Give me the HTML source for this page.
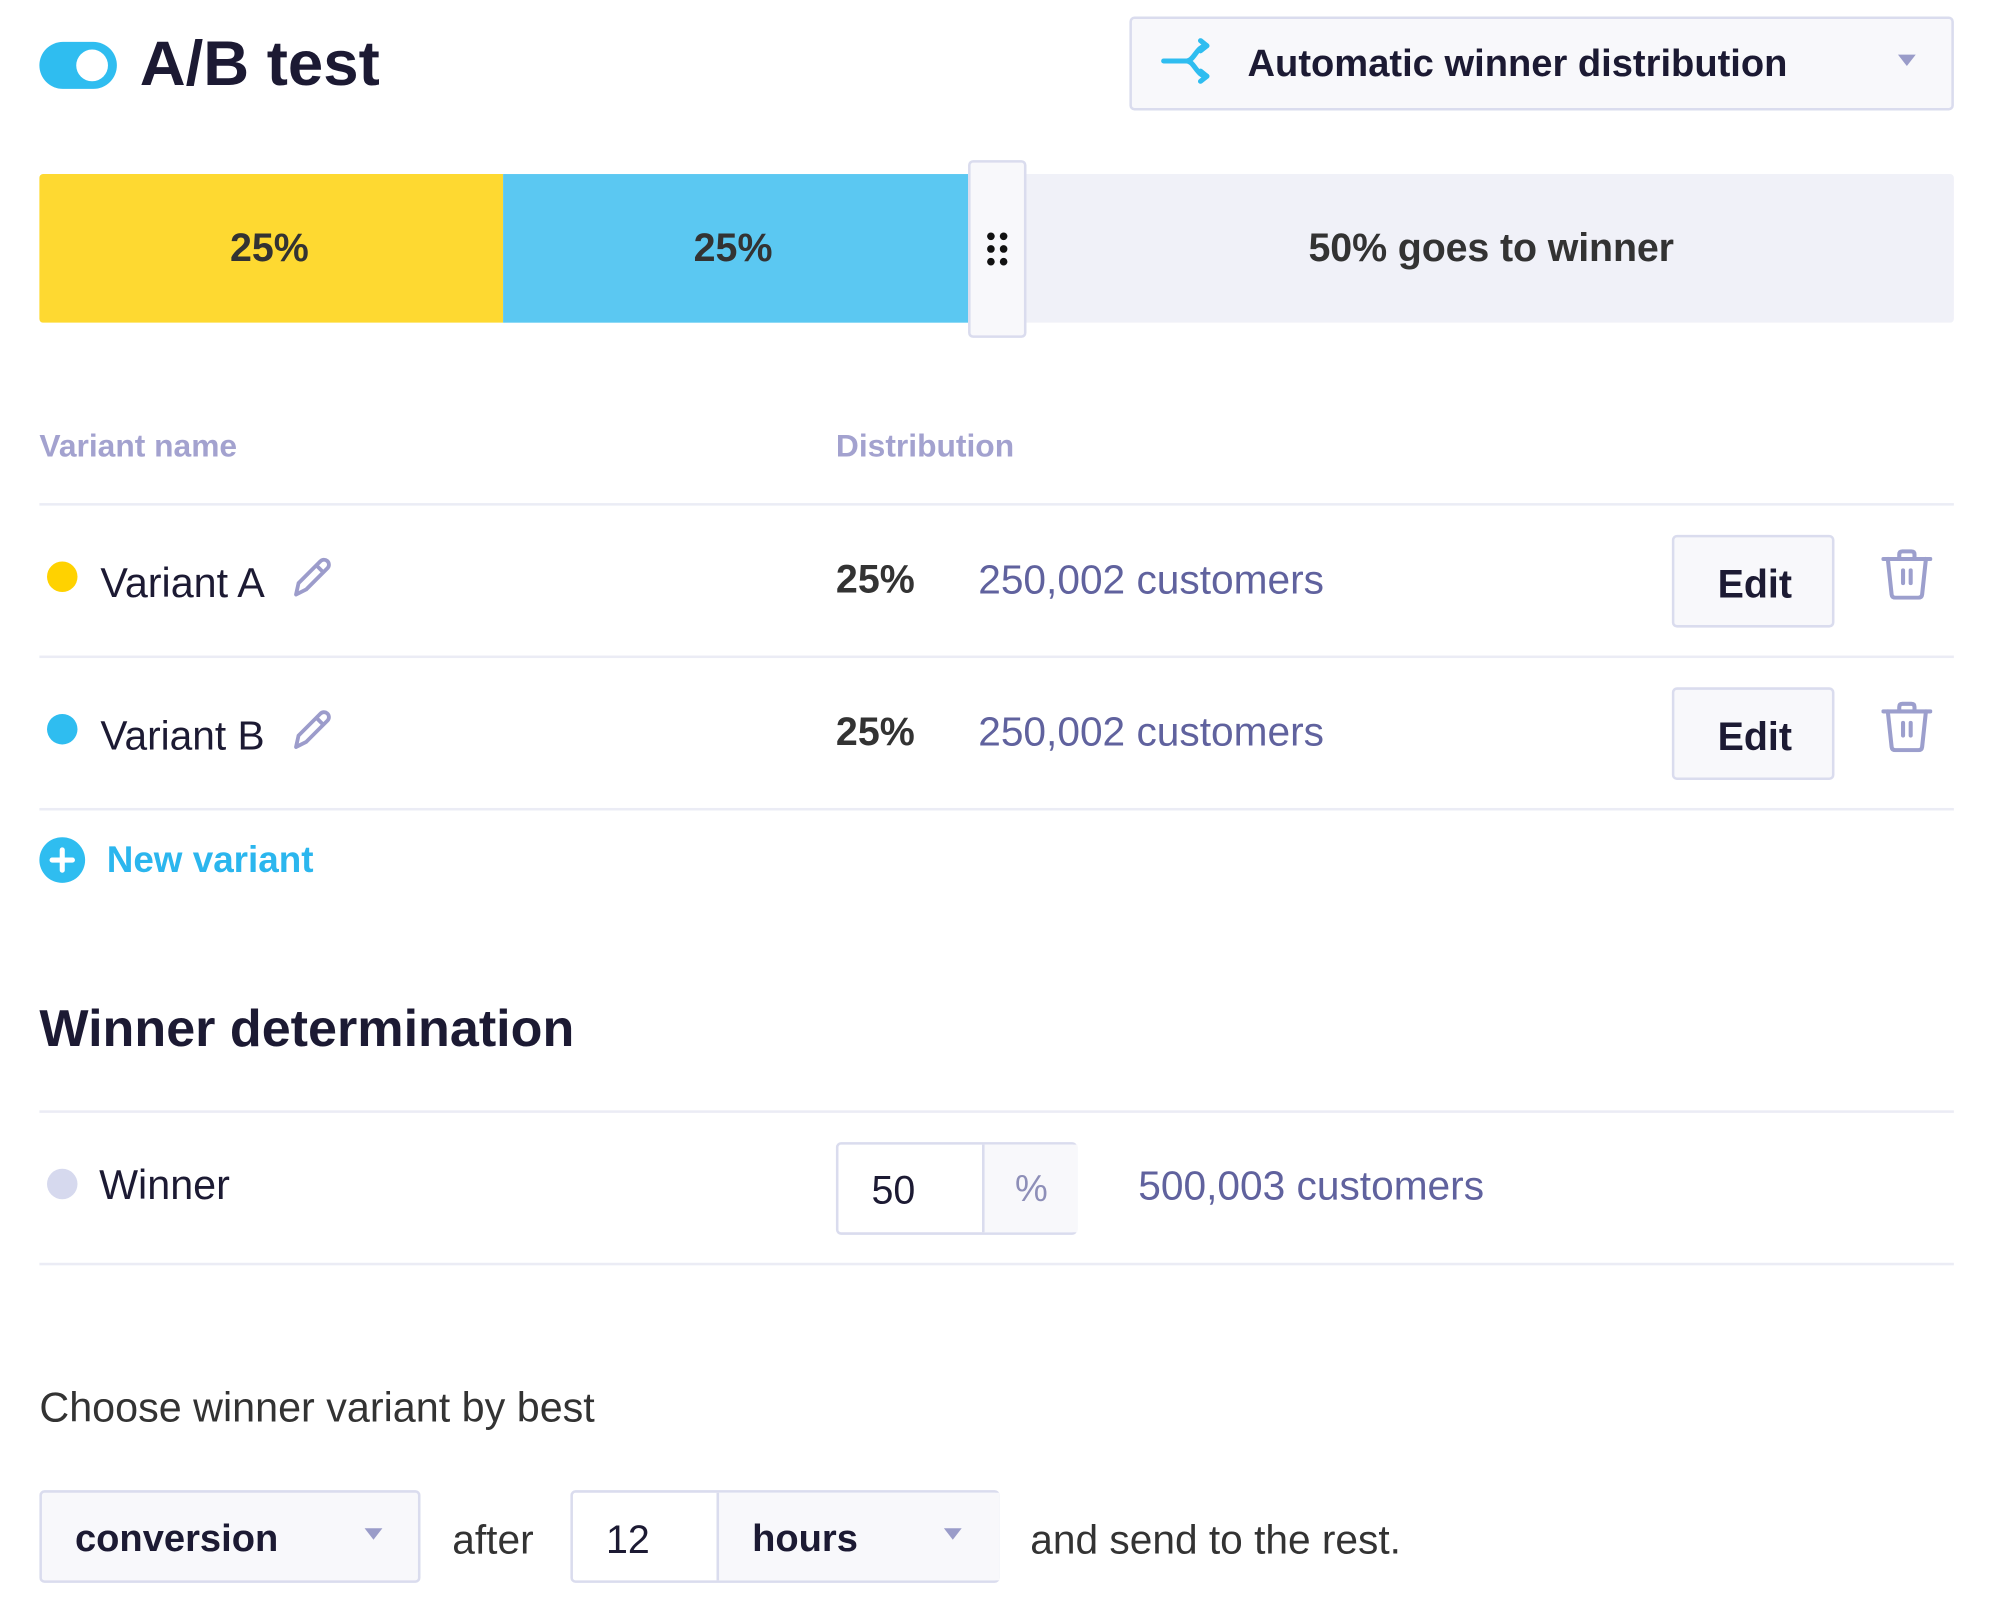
<!DOCTYPE html>
<html><head><meta charset="utf-8"><style>
html,body{margin:0;padding:0;background:#fff;}
body{width:1992px;height:1623px;overflow:hidden;position:relative;}
#w{position:absolute;left:0;top:0;width:1568px;height:1278px;transform:scale(1.2704);transform-origin:0 0;font-family:"Liberation Sans",sans-serif;color:#1c1a33;}
.a{position:absolute;}
.t{position:absolute;white-space:nowrap;line-height:1;transform:translateY(-50%);}
.ln{position:absolute;left:31px;width:1507px;height:2px;background:#ebecf5;}
.box{position:absolute;box-sizing:border-box;border:2px solid #dadcee;border-radius:4px;background:#f8f8fb;}
.dot{position:absolute;width:24px;height:24px;border-radius:50%;}
.caret{position:absolute;width:0;height:0;border-left:7px solid transparent;border-right:7px solid transparent;border-top:9px solid #9a9cc9;}
</style></head><body><div id="w">
<div class="a" style="left:31px;top:33px;width:61px;height:37px;border-radius:19px;background:#2fbdf0;"></div>
<div class="a" style="left:60px;top:39px;width:25px;height:25px;border-radius:50%;background:#fff;"></div>
<div class="t" style="left:110px;top:50px;font-size:50px;font-weight:bold;">A/B test</div>
<div class="box" style="left:889px;top:13px;width:649px;height:74px;"></div>
<svg class="a" style="left:913px;top:30px" width="44" height="36" viewBox="0 0 44 36"><g fill="none" stroke="#2fbdf0" stroke-width="4" stroke-linecap="round" stroke-linejoin="round"><path d="M3 18h18"/><path d="M21 18c6 0 8-12 16-12"/><path d="M21 18c6 0 8 12 16 12"/><path d="M32 2l5 4-5 4"/><path d="M32 26l5 4-5 4"/></g></svg>
<div class="t" style="left:982px;top:51px;font-size:30px;font-weight:bold;">Automatic winner distribution</div>
<div class="caret" style="left:1494px;top:43px;"></div>
<div class="a" style="left:31px;top:137px;width:365px;height:117px;background:#fed931;border-radius:3px 0 0 3px;"></div>
<div class="a" style="left:396px;top:137px;width:366px;height:117px;background:#5bc8f2;"></div>
<div class="a" style="left:807px;top:137px;width:731px;height:117px;background:#f0f1f8;border-radius:0 3px 3px 0;"></div>
<div class="box" style="left:762px;top:126px;width:46px;height:140px;border-radius:4px;"></div>
<svg class="a" style="left:776px;top:182px" width="18" height="28"><g fill="#111"><circle cx="4" cy="4" r="3"/><circle cx="14" cy="4" r="3"/><circle cx="4" cy="14" r="3"/><circle cx="14" cy="14" r="3"/><circle cx="4" cy="24" r="3"/><circle cx="14" cy="24" r="3"/></g></svg>
<div class="t" style="left:181px;top:195px;font-size:31px;font-weight:bold;color:#333;">25%</div>
<div class="t" style="left:546px;top:195px;font-size:31px;font-weight:bold;color:#333;">25%</div>
<div class="t" style="left:1030px;top:195px;font-size:31px;color:#333;font-weight:bold;letter-spacing:-0.1px;">50% goes to winner</div>
<div class="t" style="left:31px;top:352px;font-size:25px;font-weight:bold;color:#a3a2cf;">Variant name</div>
<div class="t" style="left:658px;top:352px;font-size:25px;font-weight:bold;color:#a3a2cf;">Distribution</div>
<div class="ln" style="top:396px"></div>
<div class="ln" style="top:516px"></div>
<div class="ln" style="top:636px"></div>
<div class="dot" style="left:37px;top:442px;background:#ffd200;"></div>
<div class="t" style="left:79px;top:459px;font-size:32.5px;">Variant A</div>
<svg class="a" style="left:229px;top:438px" width="34" height="34" viewBox="0 0 34 34"><path d="M4 30l2-9L23 4a3.5 3.5 0 0 1 6 5L12 26z" fill="none" stroke="#9c9ccb" stroke-width="3" stroke-linejoin="round"/><path d="M20 7l6 6" stroke="#9c9ccb" stroke-width="3"/></svg>
<div class="t" style="left:658px;top:456px;font-size:31px;font-weight:bold;color:#333;">25%</div>
<div class="t" style="left:770px;top:456px;font-size:32px;color:#60629e;">250,002 customers</div>
<div class="box" style="left:1316px;top:421px;width:128px;height:73px;"></div>
<div class="t" style="left:1352px;top:460px;font-size:31px;font-weight:bold;">Edit</div>
<svg class="a" style="left:1481px;top:432px" width="40" height="40" viewBox="0 0 40 40"><g fill="none" stroke="#9c9fcd" stroke-width="3.2" stroke-linecap="round" stroke-linejoin="round"><path d="M1.5 8h37"/><path d="M14 8V4.5Q14 2 16.5 2h7Q26 2 26 4.5V8"/><path d="M5 8l3 28q0.3 2.5 3 2.5h18q2.7 0 3-2.5l3-28"/><path d="M17 17v10M23 17v10"/></g></svg>
<div class="dot" style="left:37px;top:562px;background:#2fbdf0;"></div>
<div class="t" style="left:79px;top:579px;font-size:32px;">Variant B</div>
<svg class="a" style="left:229px;top:558px" width="34" height="34" viewBox="0 0 34 34"><path d="M4 30l2-9L23 4a3.5 3.5 0 0 1 6 5L12 26z" fill="none" stroke="#9c9ccb" stroke-width="3" stroke-linejoin="round"/><path d="M20 7l6 6" stroke="#9c9ccb" stroke-width="3"/></svg>
<div class="t" style="left:658px;top:576px;font-size:31px;font-weight:bold;color:#333;">25%</div>
<div class="t" style="left:770px;top:576px;font-size:32px;color:#60629e;">250,002 customers</div>
<div class="box" style="left:1316px;top:541px;width:128px;height:73px;"></div>
<div class="t" style="left:1352px;top:580px;font-size:31px;font-weight:bold;">Edit</div>
<svg class="a" style="left:1481px;top:552px" width="40" height="40" viewBox="0 0 40 40"><g fill="none" stroke="#9c9fcd" stroke-width="3.2" stroke-linecap="round" stroke-linejoin="round"><path d="M1.5 8h37"/><path d="M14 8V4.5Q14 2 16.5 2h7Q26 2 26 4.5V8"/><path d="M5 8l3 28q0.3 2.5 3 2.5h18q2.7 0 3-2.5l3-28"/><path d="M17 17v10M23 17v10"/></g></svg>
<div class="a" style="left:31px;top:659px;width:36px;height:36px;border-radius:50%;background:#2fbdf0;"></div>
<div class="a" style="left:39px;top:675px;width:20px;height:3.5px;background:#fff;border-radius:2px;"></div>
<div class="a" style="left:47.3px;top:667px;width:3.5px;height:20px;background:#fff;border-radius:2px;"></div>
<div class="t" style="left:84px;top:678px;font-size:29px;font-weight:bold;color:#2bb6ee;">New variant</div>
<div class="t" style="left:31px;top:810px;font-size:41px;font-weight:bold;">Winner determination</div>
<div class="ln" style="top:874px"></div>
<div class="ln" style="top:994px"></div>
<div class="dot" style="left:37px;top:920px;background:#d6d9ee;"></div>
<div class="t" style="left:78px;top:933px;font-size:32.5px;">Winner</div>
<div class="a" style="left:658px;top:899px;width:190px;height:73px;box-sizing:border-box;border:2px solid #dadcee;border-radius:4px;background:#fff;"></div>
<div class="a" style="left:773px;top:901px;width:73px;height:69px;background:#f8f8fb;border-left:2px solid #dadcee;"></div>
<div class="t" style="left:686px;top:937px;font-size:31px;">50</div>
<div class="t" style="left:799px;top:937px;font-size:29px;color:#8e8fb8;">%</div>
<div class="t" style="left:896px;top:933px;font-size:32px;color:#60629e;">500,003 customers</div>
<div class="t" style="left:31px;top:1108px;font-size:32.5px;color:#333;">Choose winner variant by best</div>
<div class="box" style="left:31px;top:1173px;width:300px;height:73px;"></div>
<div class="t" style="left:59px;top:1212px;font-size:30px;font-weight:bold;">conversion</div>
<div class="caret" style="left:287px;top:1203px;"></div>
<div class="t" style="left:356px;top:1212px;font-size:32px;color:#333;">after</div>
<div class="a" style="left:449px;top:1173px;width:338px;height:73px;box-sizing:border-box;border:2px solid #dadcee;border-radius:4px;background:#fff;"></div>
<div class="a" style="left:564px;top:1175px;width:221px;height:69px;background:#f8f8fb;border-left:2px solid #dadcee;"></div>
<div class="t" style="left:477px;top:1212px;font-size:31px;">12</div>
<div class="t" style="left:592px;top:1212px;font-size:30px;font-weight:bold;">hours</div>
<div class="caret" style="left:743px;top:1203px;"></div>
<div class="t" style="left:811px;top:1212px;font-size:32px;color:#333;">and send to the rest.</div>
</div></body></html>
